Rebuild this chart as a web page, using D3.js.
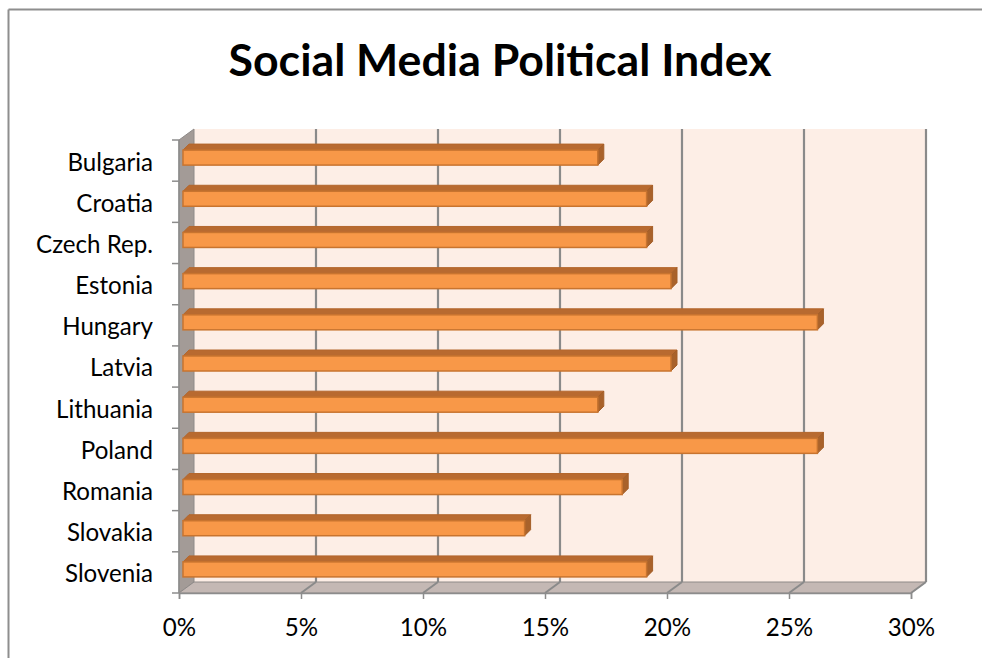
<!DOCTYPE html>
<html>
<head>
<meta charset="utf-8">
<script src="https://cdn.jsdelivr.net/npm/d3@7"></script>
<style>
  html, body { margin: 0; padding: 0; background: #ffffff; overflow: hidden; }
  svg { display: block; }
  text { font-family: Lato, "Open Sans", "Noto Sans", sans-serif; fill: #000; }
</style>
</head>
<body>
<svg id="chart" width="982" height="658"></svg>
<script>
// ---- data ----
const categories = ["Bulgaria", "Croatia", "Czech Rep.", "Estonia", "Hungary", "Latvia",
                    "Lithuania", "Poland", "Romania", "Slovakia", "Slovenia"];
const values = [0.17, 0.19, 0.19, 0.20, 0.26, 0.20, 0.17, 0.26, 0.18, 0.14, 0.19];
const xTicks = [0, 0.05, 0.10, 0.15, 0.20, 0.25, 0.30];
const title = "Social Media Political Index";

// ---- layout ----
const svg = d3.select("#chart");
const W = 982, H = 658;
const front = { left: 179, right: 911, top: 140, bottom: 593 };
const depth = { dx: 15, dy: -11 };     // wall depth offset
const barDepth = { dx: 6, dy: -6 };    // bar's own depth
const barShift = { dx: 4, dy: -3 };    // bar position inside the depth
const barH = 15;

const x = d3.scaleLinear().domain([0, 0.30]).range([front.left, front.right]);
const y = d3.scaleBand().domain(categories).range([front.top, front.bottom]);

// outer frame (top and left edges only visible)
svg.append("line").attr("x1", 8.5).attr("x2", W).attr("y1", 9.5).attr("y2", 9.5)
  .attr("stroke", "#8e8e8e").attr("stroke-width", 2);
svg.append("line").attr("x1", 8.5).attr("x2", 8.5).attr("y1", 9.5).attr("y2", H)
  .attr("stroke", "#8e8e8e").attr("stroke-width", 2);

// back wall
const bx0 = front.left + depth.dx, bx1 = front.right + depth.dx;
const by0 = front.top + depth.dy, by1 = front.bottom + depth.dy;
svg.append("rect").attr("x", bx0).attr("y", by0).attr("width", bx1 - bx0).attr("height", by1 - by0)
  .attr("fill", "#fdeee6");

// left wall
svg.append("polygon")
  .attr("points", [[front.left, front.top], [bx0, by0], [bx0, by1], [front.left, front.bottom]].join(" "))
  .attr("fill", "#a39b97").attr("stroke", "#8e8a88").attr("stroke-width", 1);

// floor
svg.append("polygon")
  .attr("points", [[front.left, front.bottom], [bx0, by1], [bx1, by1], [front.right, front.bottom]].join(" "))
  .attr("fill", "#c4b8b4").attr("stroke", "#8e8a88").attr("stroke-width", 1);

// gridlines on back wall + floor
const grid = svg.append("g");
xTicks.forEach(t => {
  const fx = x(t), bx = fx + depth.dx;
  if (t > 0) {
    grid.append("line").attr("x1", bx).attr("x2", bx).attr("y1", by0).attr("y2", by1)
      .attr("stroke", "#8a8a8a").attr("stroke-width", 2.2);
    grid.append("line").attr("x1", bx).attr("x2", fx).attr("y1", by1).attr("y2", front.bottom)
      .attr("stroke", "#8a8a8a").attr("stroke-width", 2);
  }
});

// bars (3D)
const bars = svg.append("g");
categories.forEach((c, i) => {
  const cy = y(c) + y.bandwidth() / 2 + barShift.dy;
  const x0 = x(0) + barShift.dx;
  const x1 = x(values[i]) + barShift.dx;
  const yt = cy - barH / 2, yb = cy + barH / 2;
  // top face
  bars.append("polygon")
    .attr("points", [[x0, yt], [x0 + barDepth.dx, yt + barDepth.dy], [x1 + barDepth.dx, yt + barDepth.dy], [x1, yt]].join(" "))
    .attr("fill", "#b86a30").attr("stroke", "#b3662c").attr("stroke-width", 1);
  // side face
  bars.append("polygon")
    .attr("points", [[x1, yt], [x1 + barDepth.dx, yt + barDepth.dy], [x1 + barDepth.dx, yb + barDepth.dy], [x1, yb]].join(" "))
    .attr("fill", "#a9622b").attr("stroke", "#a45e28").attr("stroke-width", 1);
  // front face
  bars.append("rect").attr("x", x0).attr("y", yt).attr("width", x1 - x0).attr("height", barH)
    .attr("fill", "#f89848").attr("stroke", "#c8742f").attr("stroke-width", 1.5);
});

// left axis line & ticks
const axisCol = "#8c8c8c";
svg.append("line").attr("x1", front.left).attr("x2", front.left).attr("y1", front.top).attr("y2", front.bottom)
  .attr("stroke", axisCol).attr("stroke-width", 1.5);
const yBounds = categories.map(c => y(c)).concat([front.bottom]);
yBounds.forEach(v => {
  svg.append("line").attr("x1", front.left - 7).attr("x2", front.left).attr("y1", v).attr("y2", v)
    .attr("stroke", axisCol).attr("stroke-width", 1.5);
});

// bottom axis
const xAxis = d3.axisBottom(x).tickValues(xTicks).tickFormat(d3.format(".0%")).tickSize(6).tickPadding(12);
const gx = svg.append("g").attr("transform", `translate(0,${front.bottom})`).call(xAxis);
gx.select(".domain").attr("stroke", axisCol).attr("stroke-width", 1.5);
gx.selectAll(".tick line").attr("stroke", axisCol).attr("stroke-width", 1.5);
gx.selectAll(".tick text").attr("font-size", 21).attr("font-family", "Lato, 'Open Sans', sans-serif")
  .attr("fill", "#000").attr("dy", 0).attr("y", 43);

// category labels
const labels = svg.append("g");
categories.forEach(c => {
  labels.append("text").attr("x", 153).attr("y", y(c) + y.bandwidth() / 2 + 1.5)
    .attr("dy", "0.35em").attr("text-anchor", "end").attr("font-size", 21).text(c);
});
// fit label size so "Czech Rep." ≈ 117px
const probe = labels.selectAll("text").filter(function () { return this.textContent === "Czech Rep."; }).node();
const fs = 21 * 117 / probe.getComputedTextLength();
labels.selectAll("text").attr("font-size", fs);
gx.selectAll(".tick text").attr("font-size", fs);

// title
const tt = svg.append("text").attr("x", 500).attr("y", 76).attr("text-anchor", "middle")
  .attr("font-weight", "bold").attr("font-size", 40).text(title);
const tfs = 40 * 543 / tt.node().getComputedTextLength();
tt.attr("font-size", tfs);
</script>
</body>
</html>
